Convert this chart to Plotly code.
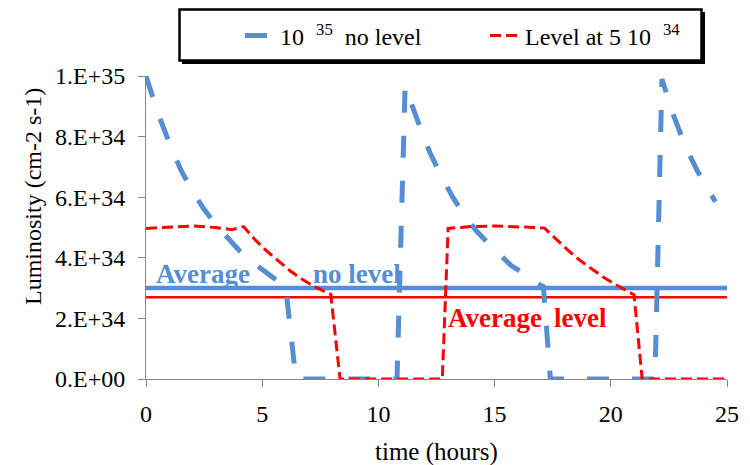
import plotly.graph_objects as go

# ---- data (luminosity in units of 1e34 cm-2 s-1, time in hours) ----
blue_t = [0, 0.5, 1, 1.5, 2, 2.5, 3, 3.5, 4, 4.5, 5, 5.5, 6.0, 6.45,
          10.8, 11.15, 11.7, 12.2, 12.7, 13.2, 13.7, 14.2, 14.7, 15.2, 15.7, 16.2, 16.7, 17.1, 17.4,
          21.9, 22.2, 22.7, 23.2, 23.7, 24.2, 24.5]
blue_L = [10, 8.8, 7.8, 6.9, 6.2, 5.6, 5.1, 4.65, 4.25, 3.9, 3.6, 3.33, 3.1, 0,
          0, 9.65, 8.5, 7.5, 6.7, 6.0, 5.4, 4.9, 4.5, 4.1, 3.75, 3.5, 3.2, 3.05, 0,
          0, 9.9, 8.7, 7.7, 6.9, 6.2, 5.85]

red_t = [0, 1, 2, 3, 3.7, 4.2, 4.7, 5.2, 5.7, 6.2, 6.7, 7.2, 7.7, 7.95, 8.35,
         12.75, 13.0, 14.0, 15.0, 16.0, 16.7, 17.15, 17.7, 18.2, 18.7, 19.2, 19.7, 20.2, 20.7, 21.0, 21.35, 25]
red_L = [4.97, 5.02, 5.05, 5.0, 4.93, 5.03, 4.59, 4.22, 3.90, 3.57, 3.30, 3.07, 2.88, 2.80, 0,
         0, 4.97, 5.03, 5.05, 5.03, 5.0, 4.98, 4.59, 4.22, 3.90, 3.61, 3.35, 3.12, 2.91, 2.78, 0, 0]

avg_t = [0, 25]
avg_blue = [3.0, 3.0]
avg_red = [2.7, 2.7]

y_tickvals = [0, 2, 4, 6, 8, 10]
y_ticktext = ["0.E+00", "2.E+34", "4.E+34", "6.E+34", "8.E+34", "1.E+35"]
x_tickvals = [0, 5, 10, 15, 20, 25]

BLUE = "#558ED5"
RED = "#FF0000"
FONT = "Liberation Serif"

fig = go.Figure()
fig.add_trace(go.Scatter(x=avg_t, y=avg_blue, mode="lines", showlegend=False,
                         line=dict(color=BLUE, width=4.5), cliponaxis=False, hoverinfo="skip"))
fig.add_trace(go.Scatter(x=avg_t, y=avg_red, mode="lines", showlegend=False,
                         line=dict(color=RED, width=2.5), cliponaxis=False, hoverinfo="skip"))
fig.add_trace(go.Scatter(x=blue_t, y=blue_L, mode="lines",
                         name="10&nbsp;&nbsp;<sup>35</sup>&nbsp;&nbsp;no level",
                         line=dict(color=BLUE, width=5, dash="22px,23px"), cliponaxis=False))
fig.add_trace(go.Scatter(x=red_t, y=red_L, mode="lines",
                         name="Level at 5 10&nbsp;&nbsp;<sup>34</sup>",
                         line=dict(color=RED, width=3, dash="11px,5px"), cliponaxis=False))

# legend frame (with shadow)
fig.add_shape(type="rect", xref="paper", yref="paper",
              x0=(182 - 146) / 581, x1=(705 - 146) / 581,
              y0=(379 - 64) / 303, y1=(379 - 12) / 303,
              line=dict(color="black", width=0), fillcolor="black", layer="above")
fig.add_shape(type="rect", xref="paper", yref="paper",
              x0=(179.5 - 146) / 581, x1=(701.5 - 146) / 581,
              y0=(379 - 60.5) / 303, y1=(379 - 9.5) / 303,
              line=dict(color="black", width=2.5), fillcolor="white", layer="above")

ann = dict(showarrow=False, xanchor="left", yanchor="middle")
fig.add_annotation(x=0.35, y=3.45, text="<b>Average</b>", font=dict(family=FONT, size=27, color=BLUE), **ann)
fig.add_annotation(x=7.1, y=3.45, text="<b>no level</b>", font=dict(family=FONT, size=27, color=BLUE), **ann)
fig.add_annotation(x=12.9, y=2.0, text="<b>Average</b>", font=dict(family=FONT, size=27, color=RED), **ann)
fig.add_annotation(x=17.45, y=2.0, text="<b>level</b>", font=dict(family=FONT, size=27, color=RED), **ann)

# axis titles
fig.add_annotation(x=(436 - 146) / 581, y=(379 - 452) / 303, xref="paper", yref="paper",
                   text="time (hours)", showarrow=False, xanchor="center", yanchor="middle",
                   font=dict(family=FONT, size=25, color="black"))
fig.add_annotation(x=(33 - 146) / 581, y=(379 - 197) / 303, xref="paper", yref="paper",
                   text="Luminosity (cm-2 s-1)", showarrow=False, textangle=-90,
                   xanchor="center", yanchor="middle",
                   font=dict(family=FONT, size=24, color="black"))

fig.update_layout(
    width=750, height=465,
    margin=dict(l=146, r=23, t=76, b=86),
    paper_bgcolor="white", plot_bgcolor="white",
    legend=dict(orientation="h", x=(240 - 146) / 581, xanchor="left",
                y=(379 - 36) / 303, yanchor="middle",
                bgcolor="rgba(0,0,0,0)", borderwidth=0,
                entrywidth=200, entrywidthmode="pixels",
                font=dict(family=FONT, size=24, color="black")),
    xaxis=dict(range=[0, 25], tickvals=x_tickvals, showgrid=False, zeroline=False,
               showline=True, linecolor="#868686", linewidth=1,
               ticks="outside", ticklen=7, tickcolor="#868686",
               tickfont=dict(family=FONT, size=24, color="black"), ticklabelstandoff=6),
    yaxis=dict(range=[0, 10], tickvals=y_tickvals, ticktext=y_ticktext, showgrid=False,
               zeroline=False, showline=True, linecolor="#868686", linewidth=1,
               ticks="outside", ticklen=7, tickcolor="#868686",
               tickfont=dict(family=FONT, size=24, color="black"), ticklabelstandoff=8),
)

fig.write_html(
    "out.html",
    post_script=("document.body.style.margin='0';"
                 "var s=document.createElement('style');"
                 "s.innerHTML='.modebar-container{display:none !important;}';"
                 "document.head.appendChild(s);"),
)
